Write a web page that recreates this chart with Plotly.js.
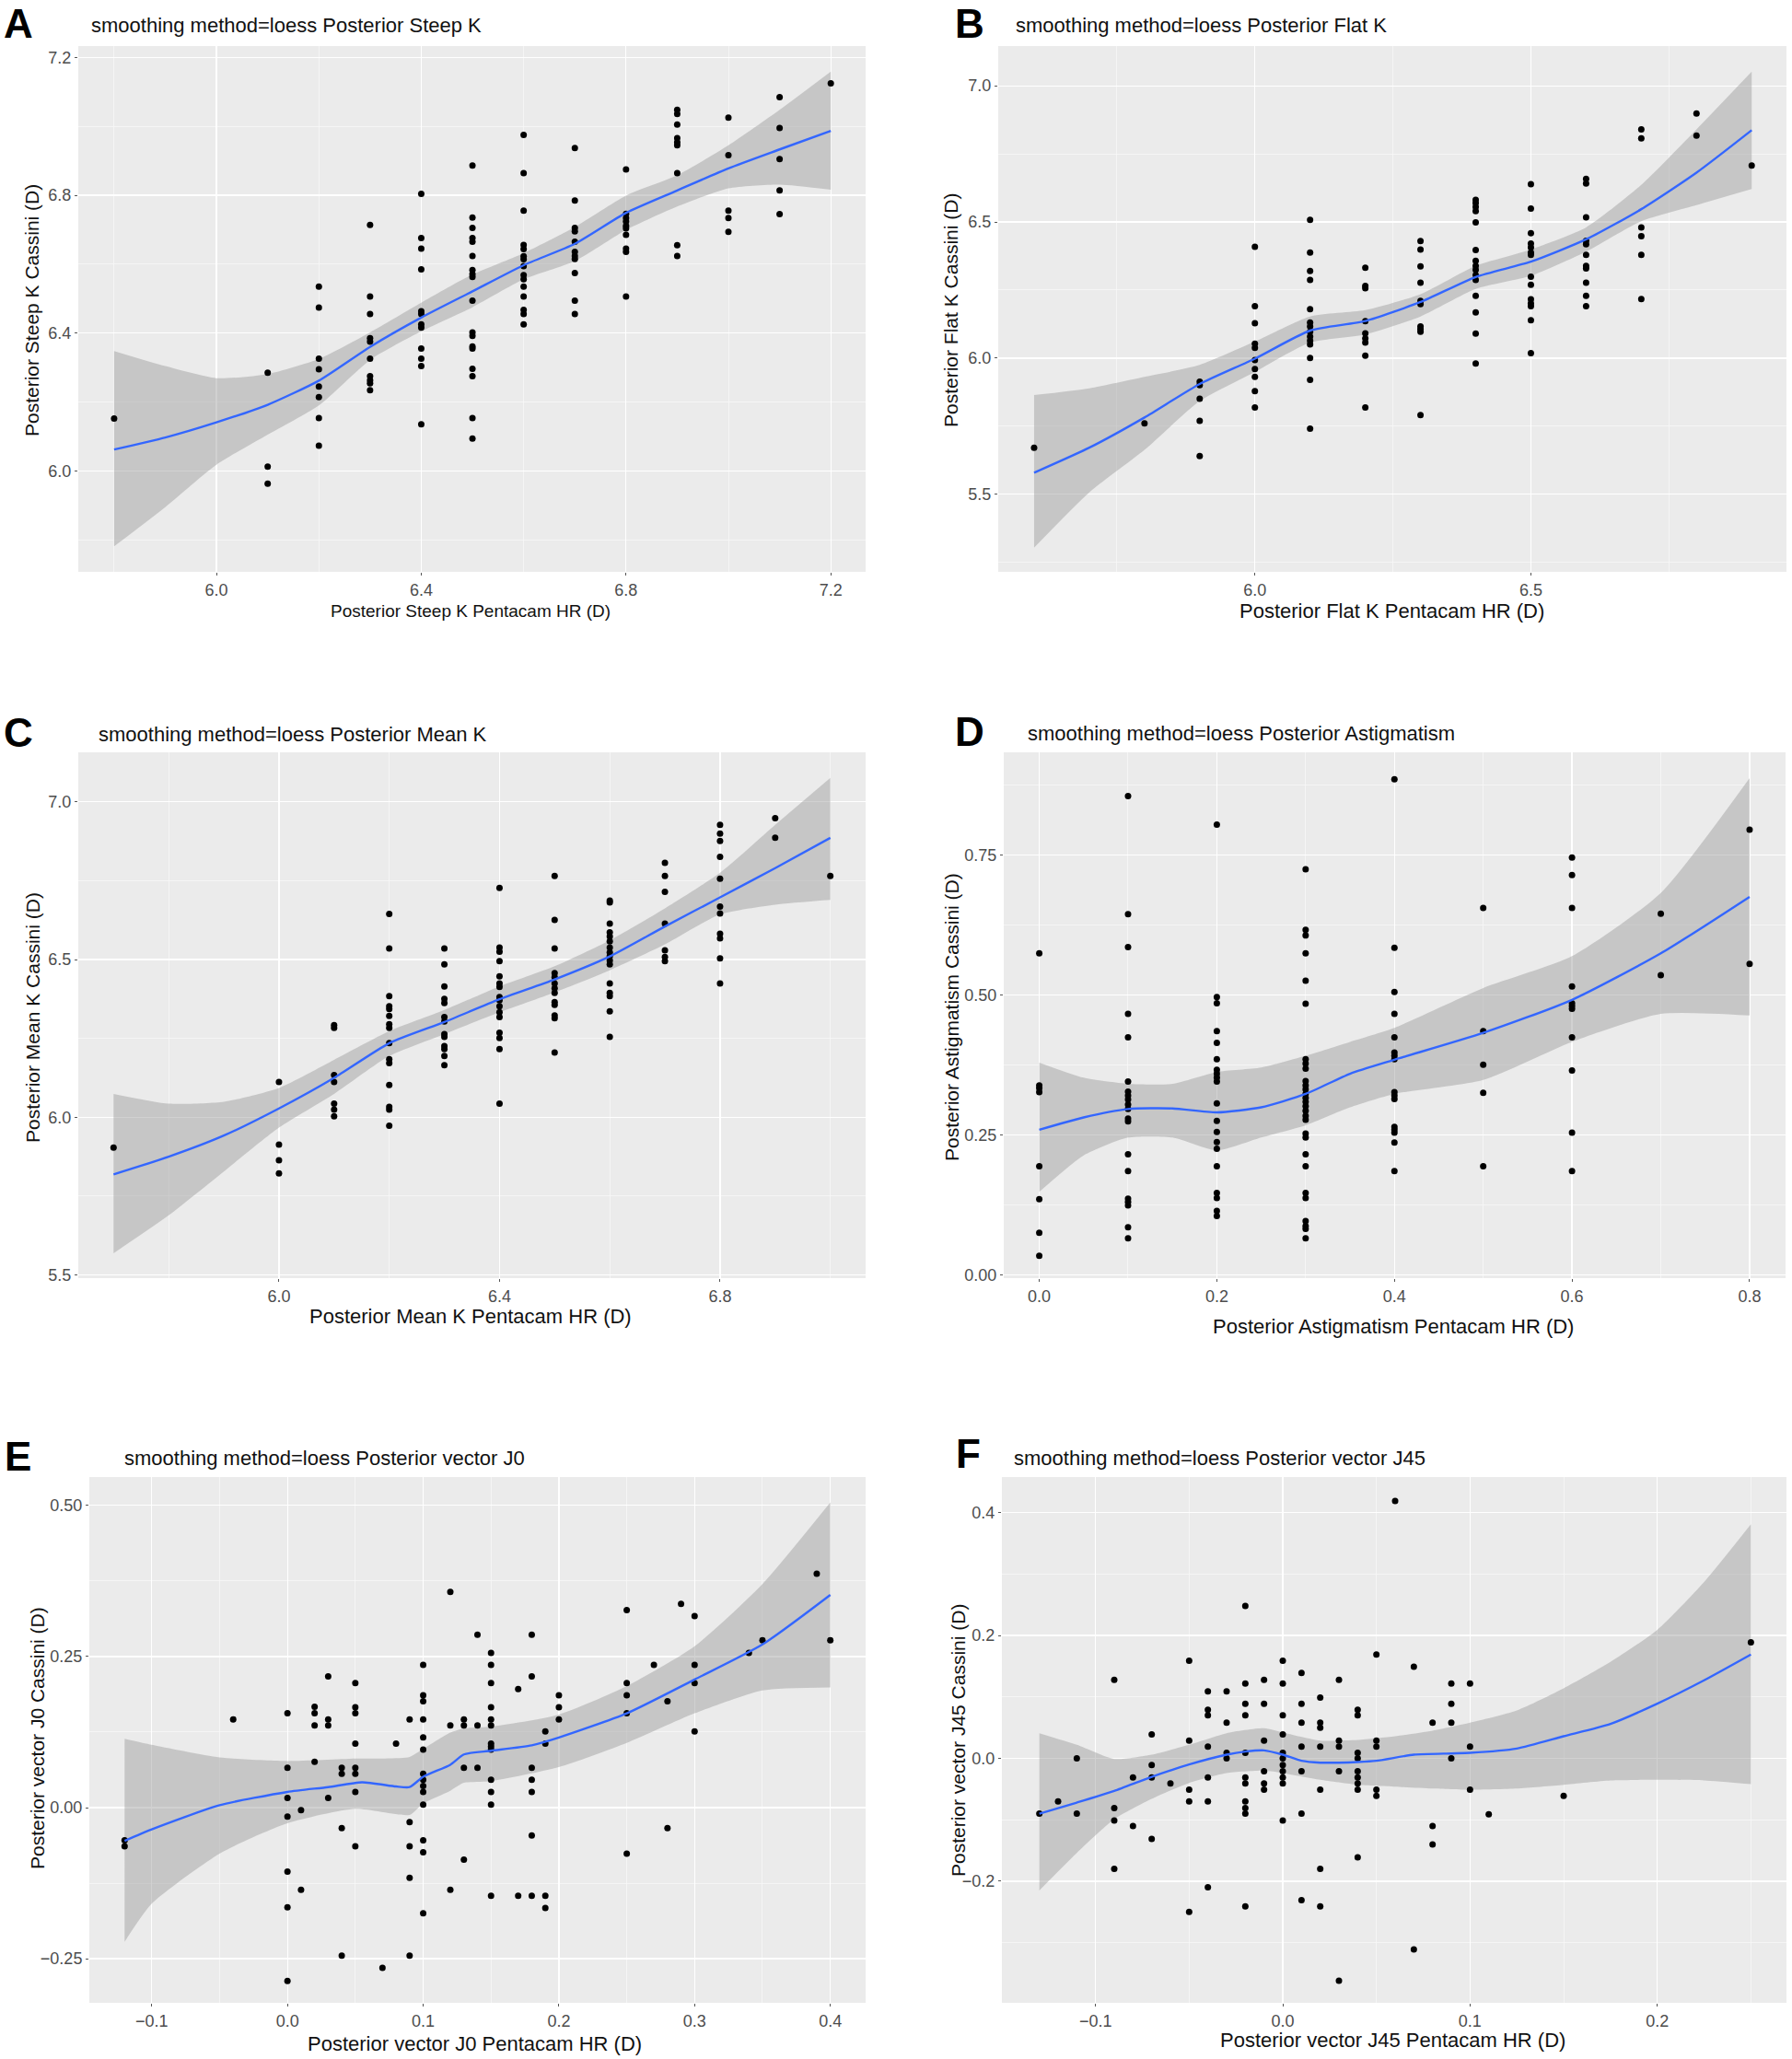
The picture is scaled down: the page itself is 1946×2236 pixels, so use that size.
<!DOCTYPE html>
<html>
<head>
<meta charset="utf-8">
<script src="https://cdn.plot.ly/plotly-3.0.1.min.js"></script>
<style>html,body{margin:0;padding:0;background:#fff}#chart{width:1946px;height:2236px}</style>
</head>
<body>
<div id="chart"></div>
<script>
// ---- A: posterior steep K ----
const steepX = [5.8, 6.1, 6.2, 6.3, 6.4, 6.5, 6.6, 6.7, 6.8, 6.9, 7.0, 7.1, 7.2];
const steepY = [
  [6.152],
  [6.285, 6.012, 5.963],
  [6.535, 6.474, 6.326, 6.295, 6.245, 6.214, 6.153, 6.073],
  [6.714, 6.506, 6.455, 6.385, 6.375, 6.326, 6.275, 6.263, 6.254, 6.234],
  [6.804, 6.676, 6.645, 6.585, 6.463, 6.455, 6.425, 6.416, 6.355, 6.326, 6.304, 6.135],
  [6.886, 6.735, 6.705, 6.676, 6.665, 6.624, 6.583, 6.571, 6.563, 6.494, 6.402, 6.392, 6.361, 6.355, 6.296, 6.275, 6.153, 6.094],
  [6.975, 6.864, 6.755, 6.656, 6.644, 6.623, 6.614, 6.594, 6.568, 6.556, 6.535, 6.506, 6.467, 6.455, 6.425],
  [6.937, 6.785, 6.705, 6.695, 6.665, 6.636, 6.624, 6.615, 6.574, 6.494, 6.455],
  [6.875, 6.746, 6.734, 6.724, 6.711, 6.704, 6.685, 6.645, 6.636, 6.506],
  [7.048, 7.036, 7.005, 6.966, 6.954, 6.945, 6.864, 6.655, 6.624],
  [7.025, 6.916, 6.755, 6.734, 6.694],
  [7.085, 6.995, 6.905, 6.814, 6.745],
  [7.125]
];
const steepFitX = [5.8, 5.9, 6.0, 6.1, 6.2, 6.3, 6.4, 6.5, 6.6, 6.7, 6.8, 6.9, 7.0, 7.1, 7.2];
const steepFit = [6.062, 6.097, 6.141, 6.192, 6.262, 6.360, 6.445, 6.521, 6.597, 6.659, 6.749, 6.814, 6.878, 6.933, 6.987];
const steepLo = [5.781, 5.895, 6.018, 6.105, 6.190, 6.322, 6.405, 6.475, 6.556, 6.609, 6.699, 6.767, 6.820, 6.831, 6.816];
const steepHi = [6.348, 6.304, 6.269, 6.281, 6.325, 6.402, 6.488, 6.570, 6.632, 6.708, 6.799, 6.858, 6.945, 7.048, 7.159];

// ---- B: posterior flat K ----
const flatX = [5.6, 5.8, 5.9, 6.0, 6.1, 6.2, 6.3, 6.4, 6.5, 6.6, 6.7, 6.8, 6.9];
const flatY = [
  [5.671],
  [5.760],
  [5.913, 5.901, 5.851, 5.770, 5.640],
  [6.409, 6.191, 6.128, 6.053, 6.038, 5.993, 5.960, 5.931, 5.879, 5.819],
  [6.508, 6.388, 6.320, 6.287, 6.180, 6.131, 6.116, 6.097, 6.079, 6.064, 6.050, 6.000, 5.920, 5.741],
  [6.332, 6.265, 6.257, 6.136, 6.091, 6.072, 6.057, 6.009, 5.819],
  [6.430, 6.399, 6.337, 6.277, 6.210, 6.198, 6.116, 6.106, 6.097, 5.791],
  [6.581, 6.569, 6.555, 6.540, 6.498, 6.397, 6.357, 6.339, 6.324, 6.305, 6.287, 6.229, 6.168, 6.090, 5.980],
  [6.639, 6.549, 6.459, 6.421, 6.406, 6.388, 6.379, 6.299, 6.269, 6.216, 6.201, 6.191, 6.139, 6.018],
  [6.658, 6.641, 6.517, 6.431, 6.418, 6.379, 6.339, 6.329, 6.277, 6.229, 6.191],
  [6.840, 6.807, 6.480, 6.448, 6.379, 6.217],
  [6.898, 6.817],
  [6.707]
];
const flatFitX = [5.6, 5.7, 5.8, 5.9, 6.0, 6.1, 6.2, 6.3, 6.4, 6.5, 6.6, 6.7, 6.8, 6.9];
const flatFit = [5.579, 5.671, 5.782, 5.905, 5.998, 6.101, 6.136, 6.206, 6.298, 6.354, 6.436, 6.547, 6.681, 6.837];
const flatLo = [5.304, 5.507, 5.663, 5.842, 5.949, 6.057, 6.087, 6.153, 6.254, 6.302, 6.391, 6.503, 6.562, 6.621];
const flatHi = [5.864, 5.889, 5.931, 5.975, 6.061, 6.153, 6.176, 6.235, 6.339, 6.399, 6.480, 6.636, 6.840, 7.052];

// ---- C: posterior mean K ----
const meanX = [5.7, 6.0, 6.1, 6.2, 6.3, 6.4, 6.5, 6.6, 6.7, 6.8, 6.9, 7.0];
const meanY = [
  [5.904],
  [6.112, 5.913, 5.864, 5.822],
  [6.292, 6.283, 6.134, 6.112, 6.043, 6.024, 6.003],
  [6.645, 6.535, 6.384, 6.352, 6.343, 6.321, 6.295, 6.283, 6.235, 6.184, 6.172, 6.102, 6.033, 6.024, 5.973],
  [6.535, 6.485, 6.415, 6.375, 6.362, 6.318, 6.304, 6.264, 6.255, 6.226, 6.216, 6.194, 6.165],
  [6.727, 6.538, 6.525, 6.495, 6.447, 6.424, 6.413, 6.381, 6.371, 6.352, 6.333, 6.318, 6.268, 6.251, 6.216, 6.043],
  [6.765, 6.626, 6.535, 6.457, 6.444, 6.424, 6.409, 6.394, 6.365, 6.356, 6.323, 6.314, 6.205],
  [6.687, 6.681, 6.614, 6.586, 6.573, 6.558, 6.538, 6.523, 6.510, 6.497, 6.485, 6.424, 6.394, 6.384, 6.336, 6.255],
  [6.807, 6.765, 6.715, 6.614, 6.529, 6.508, 6.495],
  [6.927, 6.899, 6.876, 6.826, 6.756, 6.668, 6.646, 6.582, 6.567, 6.504, 6.424],
  [6.948, 6.886],
  [6.765]
];
const meanFitX = [5.7, 5.8, 5.9, 6.0, 6.1, 6.2, 6.3, 6.4, 6.5, 6.6, 6.7, 6.8, 6.9, 7.0];
const meanFit = [5.819, 5.875, 5.942, 6.028, 6.125, 6.235, 6.302, 6.374, 6.437, 6.510, 6.605, 6.697, 6.790, 6.886];
const meanLo = [5.569, 5.689, 5.828, 5.967, 6.074, 6.194, 6.264, 6.333, 6.396, 6.466, 6.548, 6.643, 6.674, 6.689];
const meanHi = [6.074, 6.043, 6.049, 6.093, 6.182, 6.273, 6.340, 6.415, 6.479, 6.561, 6.662, 6.775, 6.927, 7.076];

// ---- D: posterior astigmatism ----
const astX = [0.0, 0.1, 0.2, 0.3, 0.4, 0.5, 0.6, 0.7, 0.8];
const astY = [
  [0.574, 0.338, 0.333, 0.326, 0.194, 0.135, 0.075, 0.034],
  [0.855, 0.644, 0.585, 0.466, 0.424, 0.345, 0.327, 0.320, 0.313, 0.304, 0.296, 0.279, 0.274, 0.215, 0.185, 0.136, 0.130, 0.124, 0.085, 0.065],
  [0.804, 0.496, 0.485, 0.435, 0.414, 0.385, 0.366, 0.359, 0.352, 0.345, 0.306, 0.275, 0.255, 0.237, 0.225, 0.194, 0.146, 0.137, 0.114, 0.105],
  [0.724, 0.616, 0.606, 0.574, 0.525, 0.484, 0.385, 0.377, 0.368, 0.346, 0.338, 0.331, 0.323, 0.316, 0.309, 0.301, 0.293, 0.284, 0.277, 0.252, 0.245, 0.215, 0.194, 0.146, 0.137, 0.096, 0.087, 0.082, 0.065],
  [0.885, 0.584, 0.505, 0.466, 0.424, 0.397, 0.391, 0.385, 0.326, 0.320, 0.314, 0.264, 0.259, 0.254, 0.236, 0.185],
  [0.655, 0.435, 0.375, 0.325, 0.194],
  [0.745, 0.714, 0.655, 0.515, 0.485, 0.480, 0.475, 0.424, 0.365, 0.254, 0.185],
  [0.645, 0.535],
  [0.795, 0.555]
];
const astFitX = [0.0, 0.05, 0.1, 0.15, 0.2, 0.25, 0.3, 0.35, 0.4, 0.5, 0.6, 0.7, 0.8];
const astFit = [0.259, 0.281, 0.296, 0.297, 0.290, 0.299, 0.323, 0.359, 0.384, 0.432, 0.491, 0.574, 0.675];
const astLo = [0.148, 0.213, 0.245, 0.245, 0.222, 0.245, 0.267, 0.299, 0.323, 0.348, 0.416, 0.466, 0.463];
const astHi = [0.379, 0.352, 0.341, 0.341, 0.362, 0.370, 0.391, 0.416, 0.441, 0.512, 0.569, 0.682, 0.887];

// ---- E: posterior vector J0 ----
const j0X = [-0.12, -0.04, 0.0, 0.01, 0.02, 0.03, 0.04, 0.05, 0.07, 0.08, 0.09, 0.10, 0.12, 0.13, 0.14, 0.15, 0.17, 0.18, 0.19, 0.20, 0.25, 0.27, 0.28, 0.29, 0.30, 0.34, 0.35, 0.39, 0.40];
const j0Y = [
  [-0.054, -0.064],
  [0.146],
  [0.156, 0.066, 0.016, -0.015, -0.106, -0.165, -0.287],
  [-0.004, -0.136],
  [0.167, 0.156, 0.136, 0.076],
  [0.217, 0.146, 0.136, 0.016],
  [0.066, 0.056, -0.034, -0.245],
  [0.206, 0.166, 0.156, 0.106, 0.066, 0.056, 0.026, -0.064],
  [-0.265],
  [0.106],
  [0.146, -0.024, -0.064, -0.116, -0.245],
  [0.236, 0.186, 0.176, 0.146, 0.116, 0.096, 0.056, 0.046, 0.036, 0.026, 0.005, -0.054, -0.074, -0.175],
  [0.357, 0.136, -0.136],
  [0.146, 0.136, 0.066, -0.086],
  [0.286, 0.136, 0.066],
  [0.256, 0.236, 0.206, 0.166, 0.146, 0.136, 0.106, 0.101, 0.096, 0.046, 0.026, 0.005, -0.146],
  [0.196, -0.146],
  [0.286, 0.217, 0.066, 0.046, 0.026, -0.046, -0.146],
  [0.126, 0.106, -0.146, -0.166],
  [0.186, 0.166, 0.146],
  [0.327, 0.206, 0.186, 0.156, -0.076],
  [0.236],
  [0.176, -0.034],
  [0.337],
  [0.317, 0.236, 0.206, 0.126],
  [0.256],
  [0.277],
  [0.387],
  [0.277]
];
const j0FitX = [-0.12, -0.1, -0.05, 0.0, 0.03, 0.055, 0.08, 0.09, 0.1, 0.12, 0.13, 0.15, 0.18, 0.2, 0.25, 0.3, 0.35, 0.4];
const j0Fit = [-0.055, -0.036, 0.004, 0.026, 0.034, 0.042, 0.035, 0.034, 0.051, 0.071, 0.088, 0.094, 0.103, 0.116, 0.156, 0.212, 0.270, 0.352];
const j0BandX = [-0.12, -0.1, -0.05, 0.0, 0.05, 0.09, 0.1, 0.12, 0.13, 0.15, 0.2, 0.25, 0.3, 0.35, 0.4];
const j0Lo = [-0.222, -0.159, -0.076, -0.026, -0.002, -0.012, 0.007, 0.028, 0.041, 0.044, 0.067, 0.107, 0.156, 0.194, 0.199];
const j0Hi = [0.114, 0.104, 0.083, 0.077, 0.081, 0.084, 0.097, 0.124, 0.131, 0.134, 0.154, 0.201, 0.267, 0.370, 0.505];

// ---- F: posterior vector J45 ----
const j45X = [-0.13, -0.12, -0.11, -0.09, -0.08, -0.07, -0.06, -0.05, -0.04, -0.03, -0.02, -0.01, 0.0, 0.01, 0.02, 0.03, 0.04, 0.05, 0.06, 0.07, 0.08, 0.09, 0.10, 0.11, 0.15, 0.25];
const j45Y = [
  [-0.090],
  [-0.070],
  [0.000, -0.090],
  [0.128, -0.081, -0.101, -0.180],
  [-0.031, -0.110],
  [0.039, -0.011, -0.031, -0.131],
  [-0.041],
  [0.159, 0.029, -0.051, -0.070, -0.250],
  [0.109, 0.079, 0.070, 0.019, -0.031, -0.070, -0.210],
  [0.109, 0.058, 0.009, 0.000],
  [0.248, 0.122, 0.089, 0.070, 0.009, -0.031, -0.041, -0.070, -0.081, -0.090, -0.241],
  [0.128, 0.089, 0.029, -0.021, -0.041, -0.051],
  [0.159, 0.122, 0.070, 0.039, 0.009, 0.000, -0.011, -0.021, -0.031, -0.041, -0.101],
  [0.139, 0.089, 0.058, 0.019, -0.021, -0.090, -0.231],
  [0.099, 0.058, 0.050, 0.019, -0.051, -0.180, -0.241],
  [0.128, 0.029, 0.019, -0.021, -0.362],
  [0.079, 0.070, 0.009, 0.000, -0.021, -0.031, -0.041, -0.051, -0.161],
  [0.169, 0.029, 0.019, -0.051, -0.061],
  [0.419],
  [0.149, -0.311],
  [0.058, -0.110, -0.140],
  [0.122, 0.089, 0.058, 0.000],
  [0.122, 0.019, -0.051],
  [-0.091],
  [-0.061],
  [0.189]
];
const j45FitX = [-0.13, -0.11, -0.09, -0.07, -0.05, -0.03, -0.02, -0.01, 0.0, 0.01, 0.02, 0.03, 0.04, 0.05, 0.07, 0.09, 0.1, 0.125, 0.15, 0.175, 0.2, 0.225, 0.25];
const j45Fit = [-0.090, -0.072, -0.053, -0.030, -0.010, 0.006, 0.011, 0.013, 0.006, -0.004, -0.007, -0.007, -0.006, -0.004, 0.006, 0.008, 0.009, 0.016, 0.036, 0.056, 0.089, 0.127, 0.169];
const j45BandX = [-0.13, -0.11, -0.09, -0.07, -0.05, -0.03, -0.01, 0.0, 0.02, 0.04, 0.06, 0.08, 0.1, 0.125, 0.15, 0.175, 0.2, 0.225, 0.25];
const j45Lo = [-0.215, -0.154, -0.099, -0.066, -0.040, -0.024, -0.020, -0.024, -0.035, -0.043, -0.046, -0.049, -0.051, -0.049, -0.043, -0.036, -0.035, -0.036, -0.042];
const j45Hi = [0.041, 0.022, -0.001, 0.006, 0.022, 0.041, 0.049, 0.042, 0.029, 0.030, 0.036, 0.045, 0.058, 0.078, 0.114, 0.157, 0.209, 0.287, 0.381];

const W = 1946, H = 2236;
const FONT = 'Liberation Sans, Arial, sans-serif';

function flatten(xs, ys) {
  const x = [], y = [];
  xs.forEach(function(v, i) { ys[i].forEach(function(w) { x.push(v); y.push(w); }); });
  return { x: x, y: y };
}

// box = [left, top, right, bottom] in page pixels
const panels = [
  { letter: 'A', title: 'smoothing method=loess Posterior Steep K',
    xt: 'Posterior Steep K Pentacam HR (D)', yt: 'Posterior Steep K Cassini (D)',
    box: [85, 50, 940, 621], xr: [5.730, 7.268], yr: [5.707, 7.233],
    xticks: [6.0, 6.4, 6.8, 7.2], xminor: [5.8, 0.2], yticks: [6.0, 6.4, 6.8, 7.2], yminor: [5.8, 0.2],
    xf: '.1f', yf: '.1f', letterPos: [2, 25], titlePos: [97, 28], xtPos: [511, 663], ytPos: [35, 337], xtSize: 19,
    px: steepX, py: steepY, fx: steepFitX, fy: steepFit, bx: steepFitX, lo: steepLo, hi: steepHi },
  { letter: 'B', title: 'smoothing method=loess Posterior Flat K',
    xt: 'Posterior Flat K Pentacam HR (D)', yt: 'Posterior Flat K Cassini (D)',
    box: [1084, 50, 1940, 621], xr: [5.535, 6.963], yr: [5.215, 7.146],
    xticks: [6.0, 6.5], xminor: [5.75, 0.25], yticks: [5.5, 6.0, 6.5, 7.0], yminor: [5.25, 0.25],
    xf: '.1f', yf: '.1f', letterPos: [1035, 25], titlePos: [1101, 28], xtPos: [1511, 663], ytPos: [1033, 337], xtSize: 22,
    px: flatX, py: flatY, fx: flatFitX, fy: flatFit, bx: flatFitX, lo: flatLo, hi: flatHi },
  { letter: 'C', title: 'smoothing method=loess Posterior Mean K',
    xt: 'Posterior Mean K Pentacam HR (D)', yt: 'Posterior Mean K Cassini (D)',
    box: [85, 817, 940, 1388], xr: [5.636, 7.064], yr: [5.49, 7.157],
    xticks: [6.0, 6.4, 6.8], xminor: [5.8, 0.2], yticks: [5.5, 6.0, 6.5, 7.0], yminor: [5.25, 0.25],
    xf: '.1f', yf: '.1f', letterPos: [2, 795], titlePos: [105, 798], xtPos: [511, 1429], ytPos: [35, 1105], xtSize: 22,
    px: meanX, py: meanY, fx: meanFitX, fy: meanFit, bx: meanFitX, lo: meanLo, hi: meanHi },
  { letter: 'D', title: 'smoothing method=loess Posterior Astigmatism',
    xt: 'Posterior Astigmatism Pentacam HR (D)', yt: 'Posterior Astigmatism Cassini (D)',
    box: [1090, 817, 1939, 1388], xr: [-0.040, 0.8405], yr: [-0.006, 0.933],
    xticks: [0.0, 0.2, 0.4, 0.6, 0.8], xminor: [0.1, 0.1], yticks: [0.0, 0.25, 0.5, 0.75], yminor: [0.125, 0.125],
    xf: '.1f', yf: '.2f', letterPos: [1035, 794], titlePos: [1114, 796], xtPos: [1513, 1440], ytPos: [1033, 1105], xtSize: 22,
    px: astX, py: astY, fx: astFitX, fy: astFit, bx: astFitX, lo: astLo, hi: astHi },
  { letter: 'E', title: 'smoothing method=loess Posterior vector J0',
    xt: 'Posterior vector J0 Pentacam HR (D)', yt: 'Posterior vector J0 Cassini (D)',
    box: [97, 1604, 940, 2175], xr: [-0.146, 0.426], yr: [-0.323, 0.547],
    xticks: [-0.1, 0.0, 0.1, 0.2, 0.3, 0.4], xminor: [-0.05, 0.1], yticks: [-0.25, 0.0, 0.25, 0.5], yminor: [-0.125, 0.25],
    xf: '.1f', yf: '.2f', letterPos: [3, 1581], titlePos: [133, 1583], xtPos: [515, 2219], ytPos: [40, 1888], xtSize: 22,
    px: j0X, py: j0Y, fx: j0FitX, fy: j0Fit, bx: j0BandX, lo: j0Lo, hi: j0Hi },
  { letter: 'F', title: 'smoothing method=loess Posterior vector J45',
    xt: 'Posterior vector J45 Pentacam HR (D)', yt: 'Posterior vector J45 Cassini (D)',
    box: [1088, 1604, 1940, 2175], xr: [-0.150, 0.269], yr: [-0.398, 0.458],
    xticks: [-0.1, 0.0, 0.1, 0.2], xminor: [-0.05, 0.1], yticks: [-0.2, 0.0, 0.2, 0.4], yminor: [-0.3, 0.2],
    xf: '.1f', yf: '.1f', letterPos: [1036, 1578], titlePos: [1099, 1583], xtPos: [1512, 2215], ytPos: [1040, 1890], xtSize: 22,
    px: j45X, py: j45Y, fx: j45FitX, fy: j45Fit, bx: j45BandX, lo: j45Lo, hi: j45Hi }
];

function axis(domain, range, ticks, minor, fmt, anchor) {
  return {
    domain: domain, range: range, anchor: anchor,
    tickmode: 'array', tickvals: ticks, tickformat: fmt,
    showgrid: true, gridcolor: '#ffffff', gridwidth: 1.3,
    zeroline: false, showline: false,
    ticks: 'outside', ticklen: 3, tickwidth: 1, tickcolor: '#555',
    tickfont: { family: FONT, size: 18, color: '#4d4d4d' },
    minor: { tickmode: 'linear', tick0: minor[0], dtick: minor[1], showgrid: true,
             gridcolor: '#f8f8f8', gridwidth: 0.8, ticks: '' },
    fixedrange: true
  };
}

const data = [];
const layout = {
  width: W, height: H,
  margin: { l: 0, r: 0, t: 0, b: 0 },
  paper_bgcolor: '#ffffff', plot_bgcolor: '#ebebeb',
  showlegend: false, hovermode: false,
  annotations: []
};

function ann(text, x, y, opts) {
  return Object.assign({
    text: text, x: x / W, y: 1 - y / H, xref: 'paper', yref: 'paper',
    showarrow: false, xanchor: 'left', yanchor: 'middle',
    font: { family: FONT, size: 22, color: '#111' }
  }, opts || {});
}

panels.forEach(function(p, i) {
  const n = i === 0 ? '' : String(i + 1);
  const xa = 'x' + n, ya = 'y' + n;
  const xd = [p.box[0] / W, p.box[2] / W];
  const yd = [1 - p.box[3] / H, 1 - p.box[1] / H];
  layout['xaxis' + n] = axis(xd, p.xr, p.xticks, p.xminor, p.xf, ya);
  layout['yaxis' + n] = axis(yd, p.yr, p.yticks, p.yminor, p.yf, xa);

  // confidence band
  data.push({ x: p.bx, y: p.lo, xaxis: xa, yaxis: ya, mode: 'lines', type: 'scatter',
              line: { width: 0, shape: 'spline', smoothing: 0.6 }, hoverinfo: 'skip' });
  data.push({ x: p.bx, y: p.hi, xaxis: xa, yaxis: ya, mode: 'lines', type: 'scatter', fill: 'tonexty',
              fillcolor: 'rgba(153,153,153,0.45)', line: { width: 0, shape: 'spline', smoothing: 0.6 }, hoverinfo: 'skip' });
  // points
  const pts = flatten(p.px, p.py);
  data.push({ x: pts.x, y: pts.y, xaxis: xa, yaxis: ya, mode: 'markers', type: 'scatter',
              marker: { color: '#000', size: 7 } });
  // loess fit
  data.push({ x: p.fx, y: p.fy, xaxis: xa, yaxis: ya, mode: 'lines', type: 'scatter',
              line: { color: '#3366ff', width: 2.4, shape: 'spline', smoothing: 0.6 } });

  layout.annotations.push(ann('<b>' + p.letter + '</b>', p.letterPos[0], p.letterPos[1],
    { font: { family: FONT, size: 44, color: '#000' } }));
  layout.annotations.push(ann(p.title, p.titlePos[0], p.titlePos[1]));
  layout.annotations.push(ann(p.xt, p.xtPos[0], p.xtPos[1],
    { xanchor: 'center', font: { family: FONT, size: p.xtSize, color: '#111' } }));
  layout.annotations.push(ann(p.yt, p.ytPos[0], p.ytPos[1],
    { xanchor: 'center', textangle: -90, font: { family: FONT, size: 21, color: '#111' } }));
});

Plotly.newPlot(document.getElementById('chart'), data, layout, { staticPlot: true, displayModeBar: false });
</script>
</body>
</html>
